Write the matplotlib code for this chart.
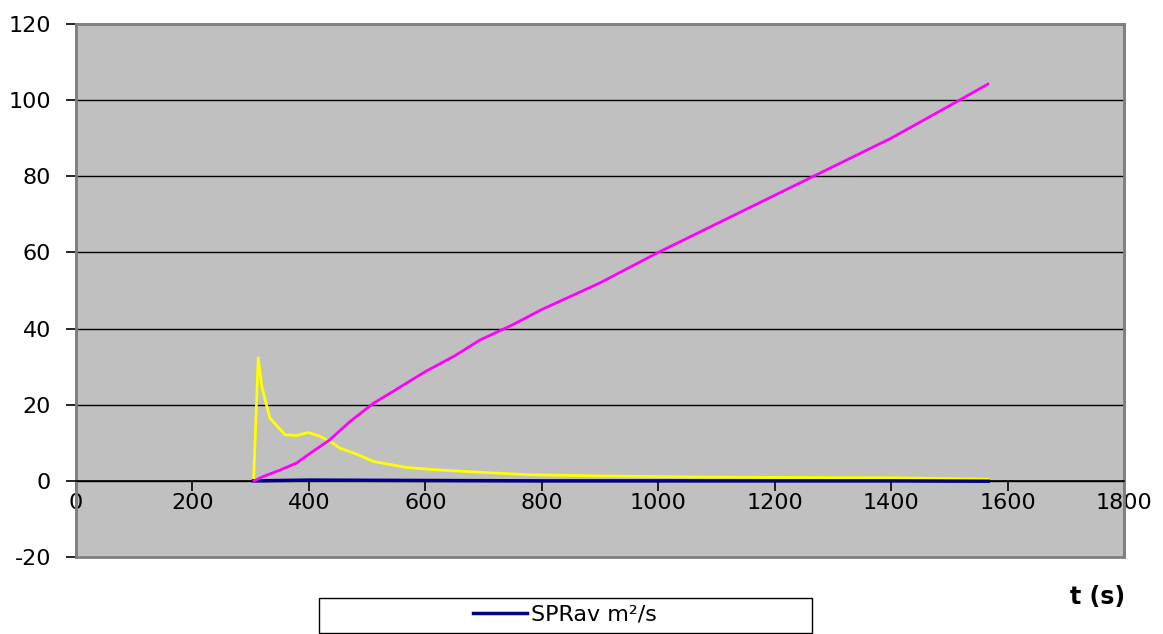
import numpy as np
import matplotlib.pyplot as plt
from matplotlib.lines import Line2D
from matplotlib.patches import Rectangle

plt.rcParams['font.family'] = ['DejaVu Sans']
plt.rcParams['axes.unicode_minus'] = False

# time axis (s) and the three series
t_mag = [306, 321, 350, 379, 400, 436, 470, 511, 550, 600, 650, 694, 750, 800, 900,
         1000, 1100, 1200, 1300, 1400, 1500, 1566]
v_mag = [0.0, 1.1, 2.8, 4.7, 7.0, 10.8, 15.5, 20.4, 24.0, 28.7, 32.8, 37.0, 41.0, 45.0,
         52.0, 60.0, 67.5, 75.0, 82.5, 90.0, 98.5, 104.2]

t_yel = [305, 313, 319, 333, 359, 379, 399, 419, 440, 453, 482, 511, 568, 620, 665,
         700, 780, 900, 1072, 1200, 1400, 1567]
v_yel = [0.0, 32.3, 24.8, 16.5, 12.1, 11.9, 12.7, 11.7, 10.0, 8.6, 7.0, 5.1, 3.5, 2.9,
         2.5, 2.2, 1.6, 1.3, 1.0, 0.9, 0.8, 0.45]

t_blue = [305, 400, 600, 800, 1000, 1200, 1400, 1567]
v_blue = [0.0, 0.2, 0.1, 0.0, 0.0, 0.0, 0.0, -0.1]

xticks = list(range(0, 1801, 200))
yticks = list(range(-20, 121, 20))

fig = plt.figure(figsize=(11.63, 6.34), dpi=100)
ax = fig.add_axes([76/1163, 77/634, 1048/1163, 533/634])
ax.set_facecolor('#c0c0c0')

ax.set_xlim(0, 1800)
ax.set_ylim(-20, 120)

# horizontal gridlines
for y in yticks[1:-1]:
    ax.axhline(y, color='black', lw=1.0, zorder=1)

ax.plot(t_blue, v_blue, color='#000080', lw=2.5, zorder=3)
ax.plot(t_mag, v_mag, color='#ff00ff', lw=2.0, zorder=4)
ax.plot(t_yel, v_yel, color='#ffff00', lw=2.0, zorder=2)

# frame in gray, x axis drawn at y = 0
for s in ['top', 'right', 'left']:
    ax.spines[s].set_color('#808080')
    ax.spines[s].set_linewidth(2)
ax.spines['bottom'].set_position(('data', 0))
ax.spines['bottom'].set_color('black')
ax.spines['bottom'].set_linewidth(1.2)
ax.add_patch(Rectangle((0, 0), 1, 1, transform=ax.transAxes, fill=False,
                       ec='#808080', lw=2, zorder=0, clip_on=False))

ax.set_xticks(xticks)
ax.set_yticks(yticks)
ax.tick_params(axis='both', direction='out', length=7, width=1.2, color='black',
               labelsize=16, labelcolor='black')
ax.tick_params(axis='x', pad=2)
ax.tick_params(axis='y', pad=11)

fig.text(1098/1163, 1 - 597/634, 't (s)', fontsize=17, fontweight='bold',
         ha='center', va='center')

# legend box
fig.patches.append(Rectangle((319/1163, 1/634), 493/1163, 35/634, transform=fig.transFigure,
                             fill=True, fc='white', ec='black', lw=1))
handle = Line2D([], [], color='#000080', lw=2.5)
fig.legend([handle], ['SPRav m²/s'], loc='center', bbox_to_anchor=(565/1163, 1 - 615/634),
           frameon=False, fontsize=16, handlelength=2.4, handletextpad=0.2)

fig.savefig('out.png', dpi=100)
